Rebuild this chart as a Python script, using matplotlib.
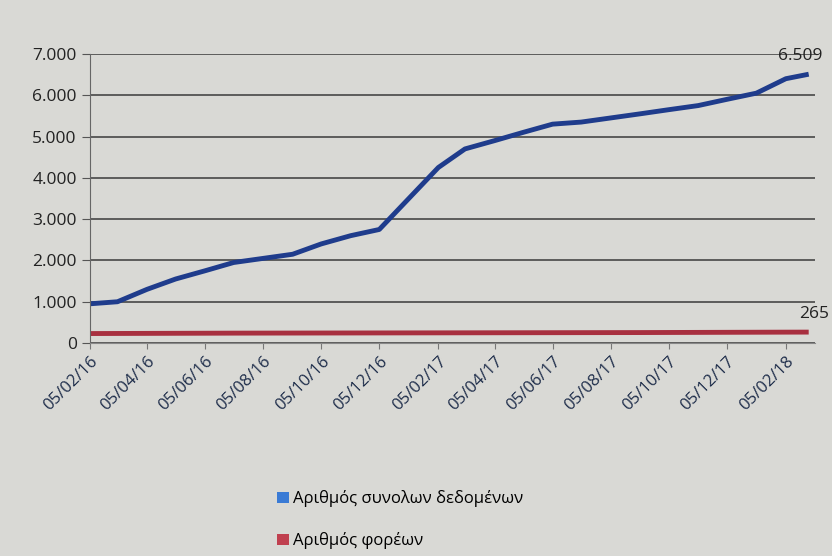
import numpy as np
import pandas as pd
import matplotlib
matplotlib.use("Agg")
import matplotlib.pyplot as plt
import matplotlib.dates as mdates
from matplotlib.patches import Patch
from matplotlib.ticker import FuncFormatter

plt.rcParams['font.family'] = ['Open Sans', 'DejaVu Sans']

# data (monthly, day 5)
dates = pd.to_datetime([
    "2016-02-05", "2016-03-05", "2016-04-05", "2016-05-05", "2016-06-05",
    "2016-07-05", "2016-08-05", "2016-09-05", "2016-10-05", "2016-11-05",
    "2016-12-05", "2017-01-05", "2017-02-05", "2017-03-05", "2017-04-05",
    "2017-05-05", "2017-06-05", "2017-07-05", "2017-08-05", "2017-09-05",
    "2017-10-05", "2017-11-05", "2017-12-05", "2018-01-05", "2018-02-05",
    "2018-03-01"])
datasets = [950, 1000, 1300, 1550, 1750, 1950, 2050, 2150, 2400, 2600,
            2750, 3500, 4250, 4700, 4900, 5100, 5300, 5350, 5450, 5550,
            5650, 5750, 5900, 6050, 6400, 6509]
agencies = [230, 232, 234, 236, 238, 240, 241, 242, 243, 244,
            245, 246, 247, 248, 249, 250, 251, 252, 253, 254,
            256, 258, 260, 262, 264, 265]

label_datasets = "Αριθμός συνολων δεδομένων"
label_agencies = "Αριθμός φορέων"

bg = "#d9d9d5"
fig = plt.figure(figsize=(8.32, 5.56), dpi=100, facecolor=bg)
ax = fig.add_axes([0.108, 0.383, 0.872, 0.52], facecolor=bg)

ax.plot(dates, datasets, color="#1f3c8c", lw=3.5, solid_capstyle="butt")
ax.plot(dates, agencies, color="#a83040", lw=3.5, solid_capstyle="butt")

ax.set_ylim(0, 7000)
ax.set_yticks(np.arange(0, 7001, 1000))
ax.yaxis.set_major_formatter(FuncFormatter(lambda v, p: f"{int(v):,}".replace(",", ".")))
ax.grid(axis="y", color="#3a3a3a", lw=1.1)
ax.set_axisbelow(True)

ax.set_xlim(pd.Timestamp("2016-02-05"), pd.Timestamp("2018-03-08"))
ax.xaxis.set_major_locator(mdates.MonthLocator(bymonth=range(2, 13, 2), bymonthday=5))
ax.xaxis.set_major_formatter(mdates.DateFormatter("%d/%m/%y"))
plt.setp(ax.get_xticklabels(), rotation=45, ha="right", rotation_mode="anchor",
         color="#1e2d4a", fontsize=12)
plt.setp(ax.get_yticklabels(), color="#222222", fontsize=12.5)
ax.tick_params(axis="y", length=6, color="#555555")
ax.tick_params(axis="x", length=4, color="#777777")

for s in ["top", "right"]:
    ax.spines[s].set_visible(False)
ax.spines["left"].set_color("#666666")
ax.spines["bottom"].set_color("#888888")

ax.annotate(f"{datasets[-1]:,}".replace(",", "."), (dates[-1], datasets[-1]),
            xytext=(-6, 10), textcoords="offset points", ha="center",
            fontsize=12.5, color="#222222")
ax.annotate(str(agencies[-1]), (dates[-1], agencies[-1]),
            xytext=(4, 10), textcoords="offset points", ha="center",
            fontsize=12.5, color="#222222")

handles = [Patch(facecolor="#3a7bd5", label=label_datasets),
           Patch(facecolor="#c0404f", label=label_agencies)]
fig.legend(handles=handles, loc="upper left", bbox_to_anchor=(0.315, 0.145),
           frameon=False, handlelength=0.7, handleheight=0.7, handletextpad=0.25,
           labelspacing=1.5, fontsize=12)

fig.savefig("out.png", dpi=100, facecolor=bg)
